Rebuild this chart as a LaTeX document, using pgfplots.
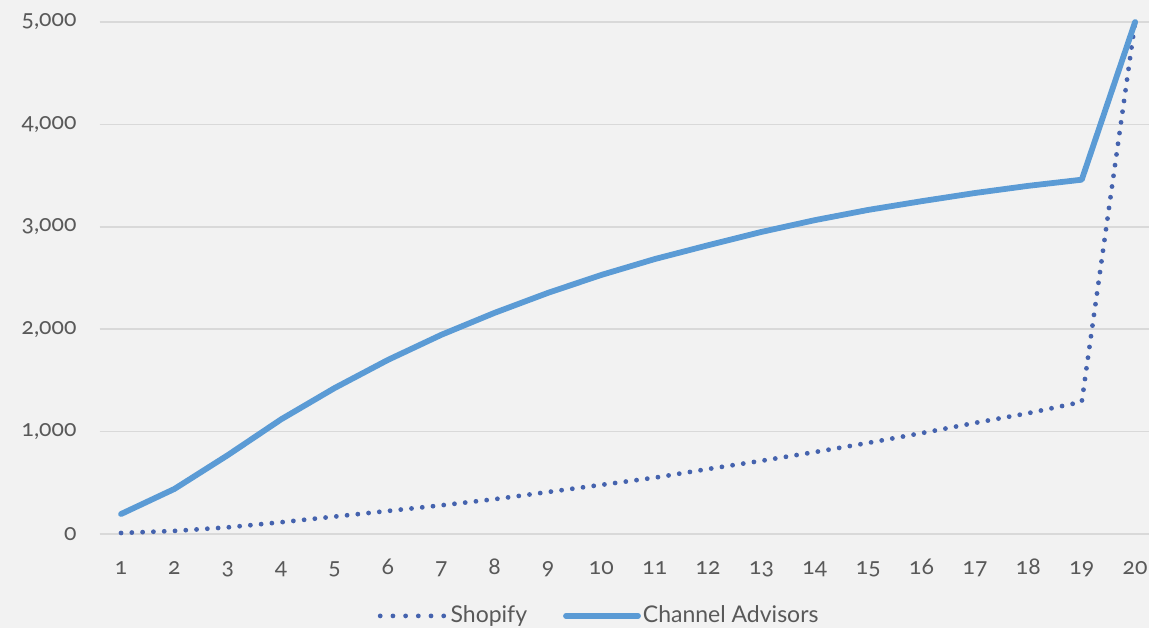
\documentclass[border=0pt]{standalone}
\usepackage{fontspec}
\setmainfont{Lato}[Numbers=OldStyle]
\usepackage{pgfplots}
\pgfplotsset{compat=1.18}
\definecolor{bg}{HTML}{F2F2F2}
\definecolor{gridc}{HTML}{D9D9D9}
\definecolor{txt}{HTML}{595959}
\definecolor{shop}{HTML}{4563AE}
\definecolor{chan}{HTML}{5B9BD5}
\begin{document}
\fontsize{23pt}{27pt}\selectfont
\begin{tikzpicture}
\fill[bg] (0,0) rectangle (1149pt,628pt);
\clip (0,0) rectangle (1149pt,628pt);
\begin{axis}[
  at={(99.7pt,94pt)}, anchor=south west,
  scale only axis, width=1049.3pt, height=512pt,
  xmin=0.6, xmax=20.26, ymin=0, ymax=5000,
  clip=false,
  axis line style={draw=none},
  major tick length=0pt,
  xtick={1,...,20},
  ytick={0,1000,2000,3000,4000,5000},
  scaled y ticks=false,
  /pgf/number format/assume math mode=true,
  /pgf/number format/1000 sep={,},
  ymajorgrids, grid style={gridc, line width=1.6pt},
  tick label style={font=\fontsize{23pt}{27pt}\selectfont, text=txt},
  yticklabel style={anchor=east, inner sep=0pt, xshift=-23pt},
  xticklabel style={anchor=base, inner sep=0pt, yshift=-41pt},
  legend columns=2,
  legend style={draw=none, fill=none, at={(0.476,-0.160)}, anchor=center,
    font=\fontsize{23pt}{27pt}\selectfont, text=txt,
    /tikz/every even column/.append style={column sep=34pt}},
  legend cell align=left,
]
\addplot[shop, line width=4.8pt, line cap=round, dash pattern=on 0pt off 10.8pt,
  legend image code/.code={\draw[shop, line width=4.8pt, line cap=round, dash pattern=on 0pt off 12.7pt] (-8pt,0pt) -- (58pt,0pt);}]
  coordinates {(1,10)(2,30)(3,65)(4,115)(5,170)(6,225)(7,280)(8,340)(9,410)(10,480)
  (11,550)(12,635)(13,715)(14,800)(15,890)(16,985)(17,1085)(18,1180)(19,1290)(20,5000)};
\addlegendentry{Shopify}
\addplot[chan, line width=5.8pt, line cap=round, line join=round,
  legend image code/.code={\draw[chan, line width=5.8pt, line cap=round] (0pt,0pt) -- (72pt,0pt);}]
  coordinates {(1,195)(2,440)(3,770)(4,1120)(5,1425)(6,1700)(7,1945)(8,2160)(9,2355)(10,2530)
  (11,2685)(12,2820)(13,2950)(14,3065)(15,3165)(16,3250)(17,3330)(18,3400)(19,3460)(20,5000)};
\addlegendentry{Channel Advisors}
\end{axis}
\end{tikzpicture}
\end{document}
